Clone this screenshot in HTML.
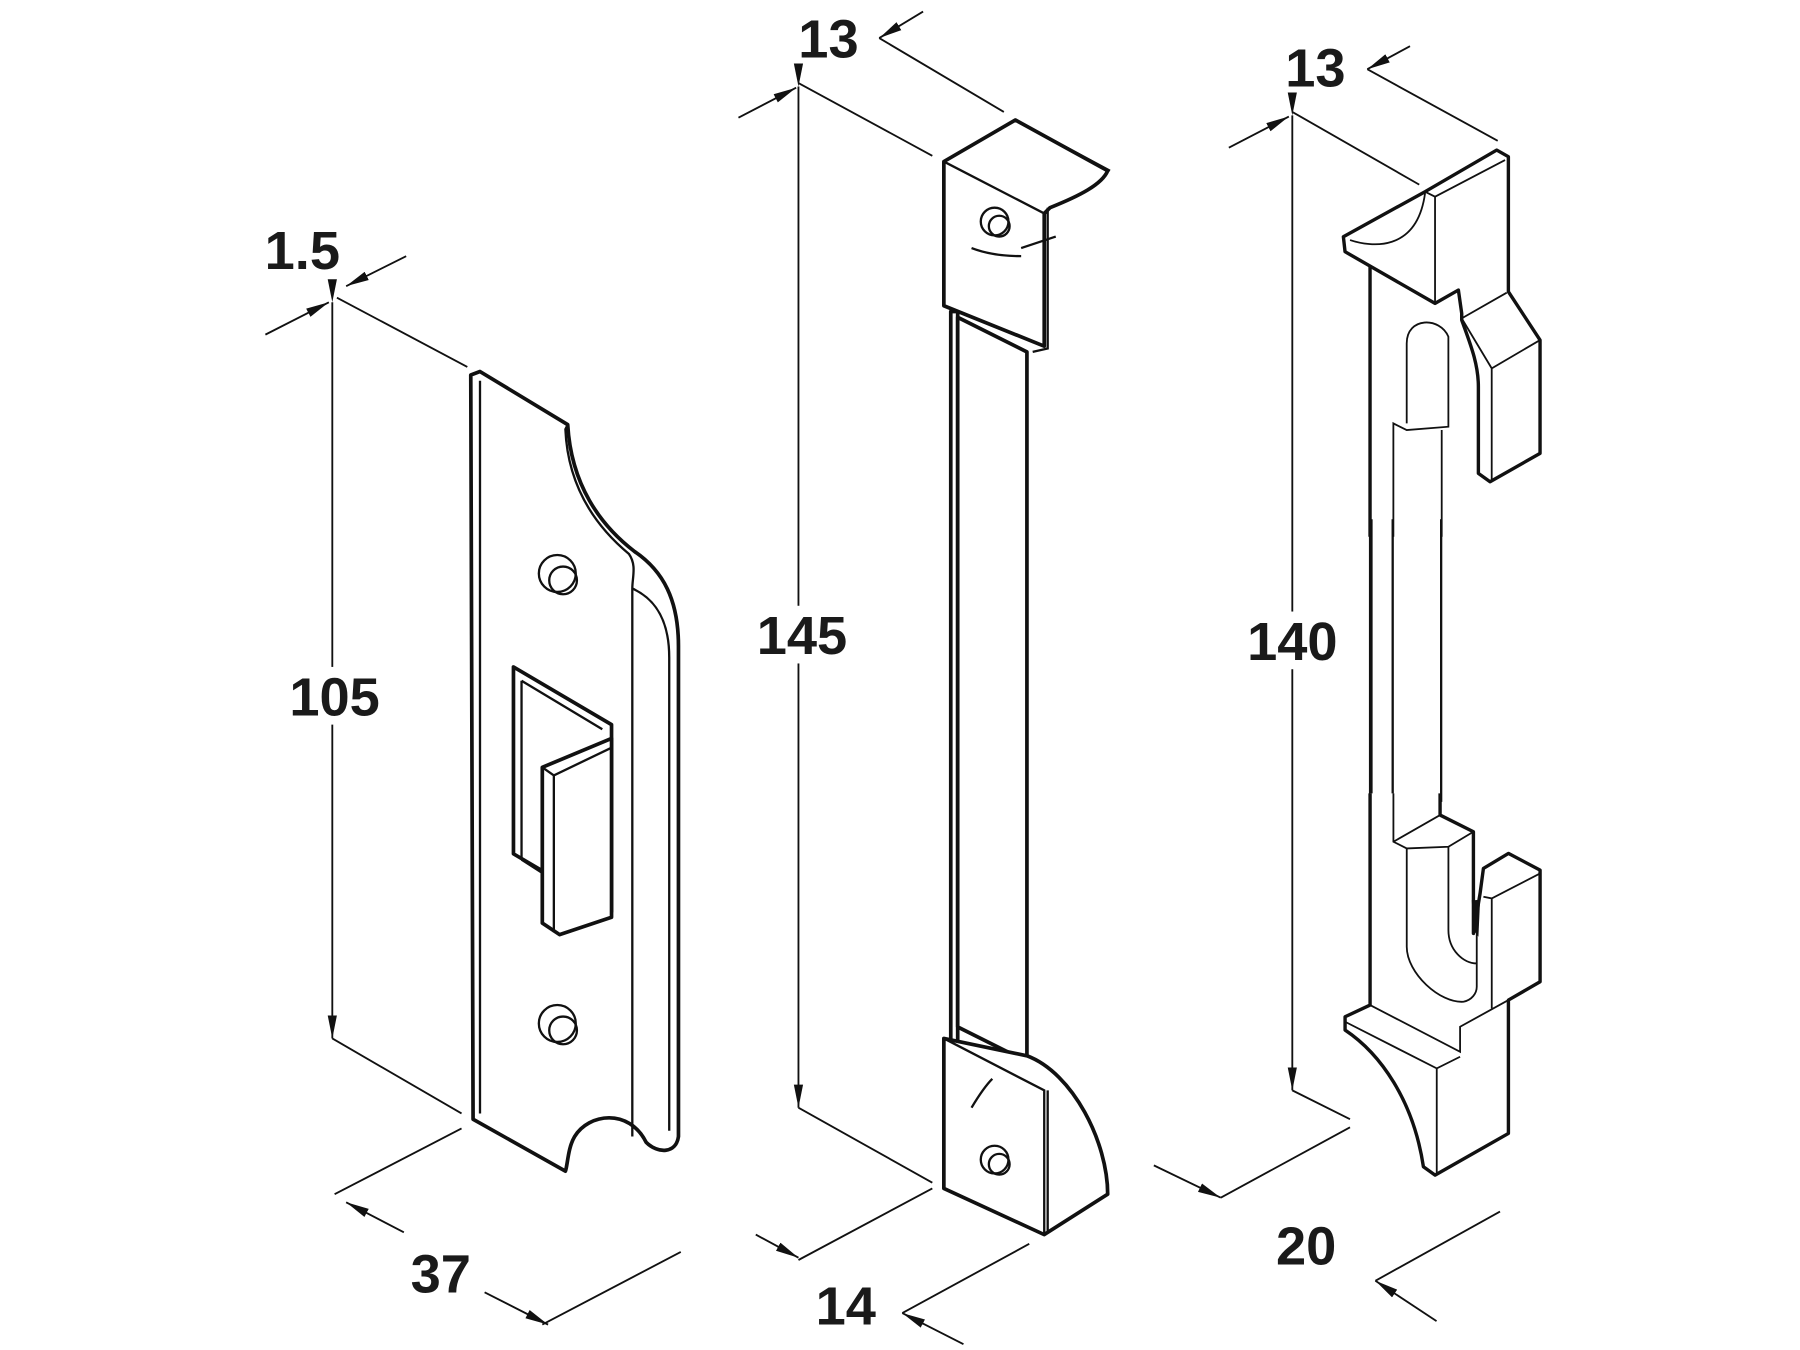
<!DOCTYPE html>
<html><head><style>
html,body{margin:0;padding:0;background:#fff;}
svg{display:block}
text{font-family:"Liberation Sans",Arial,sans-serif;font-weight:bold;font-size:47px;fill:#1a1a1a}
.t{stroke:#111;stroke-width:1.6;fill:none}
.k{stroke:#111;stroke-width:3.2;fill:#fff;stroke-linejoin:round}
.m{stroke:#111;stroke-width:2;fill:none}
.z .k{stroke-width:3.4;vector-effect:non-scaling-stroke}
.z .m{stroke-width:1.8;vector-effect:non-scaling-stroke}
</style></head><body>
<svg width="1800" height="1350" viewBox="0 0 1560 1170" xmlns="http://www.w3.org/2000/svg">
<defs><marker id="a" viewBox="0 0 20 10" refX="20" refY="5" markerWidth="20" markerHeight="10" markerUnits="userSpaceOnUse" orient="auto"><path d="M0,1 L20,5 L0,9 z" fill="#111"/></marker></defs>

<!-- LEFT PLATE -->
<line class="t" x1="288" y1="262" x2="288" y2="900" marker-start="url(#a)" marker-end="url(#a)"/>
<line class="t" x1="292" y1="258" x2="405" y2="318"/>
<line class="t" x1="288" y1="900" x2="400" y2="965"/>
<line class="t" x1="230" y1="290" x2="285" y2="262" marker-end="url(#a)"/>
<line class="t" x1="352" y1="222" x2="300" y2="248" marker-end="url(#a)"/>
<line class="t" x1="290" y1="1035" x2="400" y2="978"/>
<line class="t" x1="470" y1="1148" x2="590" y2="1085"/>
<line class="t" x1="350" y1="1068" x2="300" y2="1042" marker-end="url(#a)"/>
<line class="t" x1="420" y1="1120" x2="475" y2="1148" marker-end="url(#a)"/>
<rect x="245" y="578" width="90" height="50" fill="#fff"/>
<text x="290" y="620" text-anchor="middle">105</text>
<text x="262" y="233" text-anchor="middle">1.5</text>
<text x="382" y="1120" text-anchor="middle">37</text>
<path class="k" d="M408,325 L416,322 L492,368 C495,420 520,455 550,478 C575,495 588,520 588,560 L588,985 C586,1000 570,1000 560,990 C545,960 510,965 498,985 C492,995 492,1010 490,1015 L410,970 Z"/>
<path class="m" d="M416,330 L416,965 M492,368 L490,372 C492,420 515,455 545,480 C552,490 548,500 548,510 L548,985 M548,510 C570,520 580,540 580,570 L580,980"/>
<circle class="m" cx="483" cy="497" r="16"/><circle class="m" cx="488" cy="503" r="12"/>
<circle class="m" cx="483" cy="887" r="16"/><circle class="m" cx="488" cy="893" r="12"/>
<path class="k" d="M445,578 L530,628 L530,790 L445,740 Z"/>
<path class="m" d="M452,590 L522,632 M452,590 L452,745 M452,745 L522,790"/>
<path class="k" d="M470,665 L530,640 L530,795 L485,810 L470,800 Z"/>
<path class="m" d="M480,672 L480,808 M470,665 L480,672 L530,648"/>

<!-- MIDDLE BAR -->
<line class="t" x1="692" y1="75" x2="692" y2="960" marker-start="url(#a)" marker-end="url(#a)"/>
<line class="t" x1="692" y1="72" x2="808" y2="135"/>
<line class="t" x1="692" y1="960" x2="808" y2="1025"/>
<line class="t" x1="640" y1="102" x2="690" y2="76" marker-end="url(#a)"/>
<line class="t" x1="800" y1="10" x2="762" y2="33" marker-end="url(#a)"/>
<line class="t" x1="762" y1="33" x2="870" y2="97"/>
<line class="t" x1="692" y1="1092" x2="808" y2="1030"/>
<line class="t" x1="782" y1="1138" x2="892" y2="1078"/>
<line class="t" x1="655" y1="1070" x2="692" y2="1090" marker-end="url(#a)"/>
<line class="t" x1="835" y1="1165" x2="782" y2="1138" marker-end="url(#a)"/>
<rect x="645" y="525" width="100" height="50" fill="#fff"/>
<text x="695" y="567" text-anchor="middle">145</text>
<text x="718" y="50" text-anchor="middle">13</text>
<text x="733" y="1148" text-anchor="middle">14</text>
<path class="k" d="M824,270 L830,270 L830,905 L824,905 Z"/>
<path class="k" d="M830,275 L890,305 L890,920 L830,890 Z"/>
<path class="k" d="M818,140 L880,104 L960,148 C955,160 935,170 910,180 L905,185 L905,300 L818,265 Z"/>
<path class="m" d="M818,140 L905,185 M880,104 L962,148 M905,185 L905,300 M908,180 L908,302 L895,305"/>
<circle class="m" cx="862" cy="192" r="12"/><circle class="m" cx="866" cy="196" r="9"/>
<path class="m" d="M842,215 C855,220 870,222 885,222 M885,215 L915,205"/>
<path class="k" d="M818,900 L890,915 C930,930 960,990 960,1035 L905,1070 L818,1030 Z"/>
<path class="m" d="M818,900 L905,945 L905,1070 M908,945 L908,1068"/>
<circle class="m" cx="862" cy="1005" r="12"/><circle class="m" cx="866" cy="1009" r="9"/>
<path class="m" d="M842,960 C848,950 855,940 860,935"/>

<!-- RIGHT BAR dims -->
<line class="t" x1="1120" y1="100" x2="1120" y2="945" marker-start="url(#a)" marker-end="url(#a)"/>
<line class="t" x1="1120" y1="97" x2="1230" y2="160"/>
<line class="t" x1="1120" y1="945" x2="1170" y2="970"/>
<line class="t" x1="1065" y1="128" x2="1117" y2="101" marker-end="url(#a)"/>
<line class="t" x1="1222" y1="40" x2="1185" y2="60" marker-end="url(#a)"/>
<line class="t" x1="1185" y1="60" x2="1298" y2="122"/>
<line class="t" x1="1000" y1="1010" x2="1058" y2="1038" marker-end="url(#a)"/>
<line class="t" x1="1058" y1="1038" x2="1170" y2="977"/>
<line class="t" x1="1245" y1="1145" x2="1192" y2="1110" marker-end="url(#a)"/>
<line class="t" x1="1192" y1="1110" x2="1300" y2="1050"/>
<rect x="1070" y="530" width="100" height="50" fill="#fff"/>
<text x="1120" y="572" text-anchor="middle">140</text>
<text x="1140" y="75" text-anchor="middle">13</text>
<text x="1132" y="1096" text-anchor="middle">20</text>

<!-- RIGHT BAR stem -->
<path class="k" d="M1188,450 L1188,875"/>
<path class="m" d="M1207,450 L1207,730 M1249,450 L1249,695"/>

<g class="z" transform="translate(1152.7,112.7) scale(0.2889)">
<path class="k" d="M40,320 L285,185 L500,60 L535,80 L535,485 L630,630 L630,970 L480,1055 L445,1030 L445,770 C445,700 420,640 395,570 L395,550 L385,480 L315,520 L45,365 Z"/>
<path class="k" d="M120,410 L120,1220" fill="none"/>
<path class="m" d="M60,330 C120,350 260,370 285,190 M285,185 L315,200 L525,90 M315,200 L315,520 M395,565 L530,488 M395,565 L485,715 L630,630 M485,715 L485,1050"/>
<path class="m" d="M230,880 L230,640 C230,560 330,560 355,620 L355,890 L230,900 L190,880 L190,1220 M335,900 L335,1220"/>
</g>

<g class="z" transform="translate(1161.4,693.4) scale(0.2889)">
<path class="k" d="M90,-20 L90,615 L15,650 L15,690 C120,760 220,900 250,1100 L285,1125 L505,1000 L505,600 L600,545 L600,210 L505,160 L430,205 L420,280 L400,400 L400,95 L300,45 L300,-20"/>
<path class="m" d="M160,-20 L160,125 L200,145 L325,140 L400,95 M300,45 L160,125"/>
<path class="m" d="M200,145 L200,440 C200,520 300,610 370,605 C395,600 410,580 410,560 L410,300 M325,140 L325,390 C325,450 370,490 410,490"/>
<path class="m" d="M15,665 L290,805 L360,770 M90,615 L360,755 L360,680 L505,600 M290,805 L290,1125 M455,295 L455,625 M430,290 L455,295 L600,220"/>
<path d="M395,300 L420,300 L415,410 L400,390 Z" fill="#111"/>
</g>
</svg>
</body></html>
